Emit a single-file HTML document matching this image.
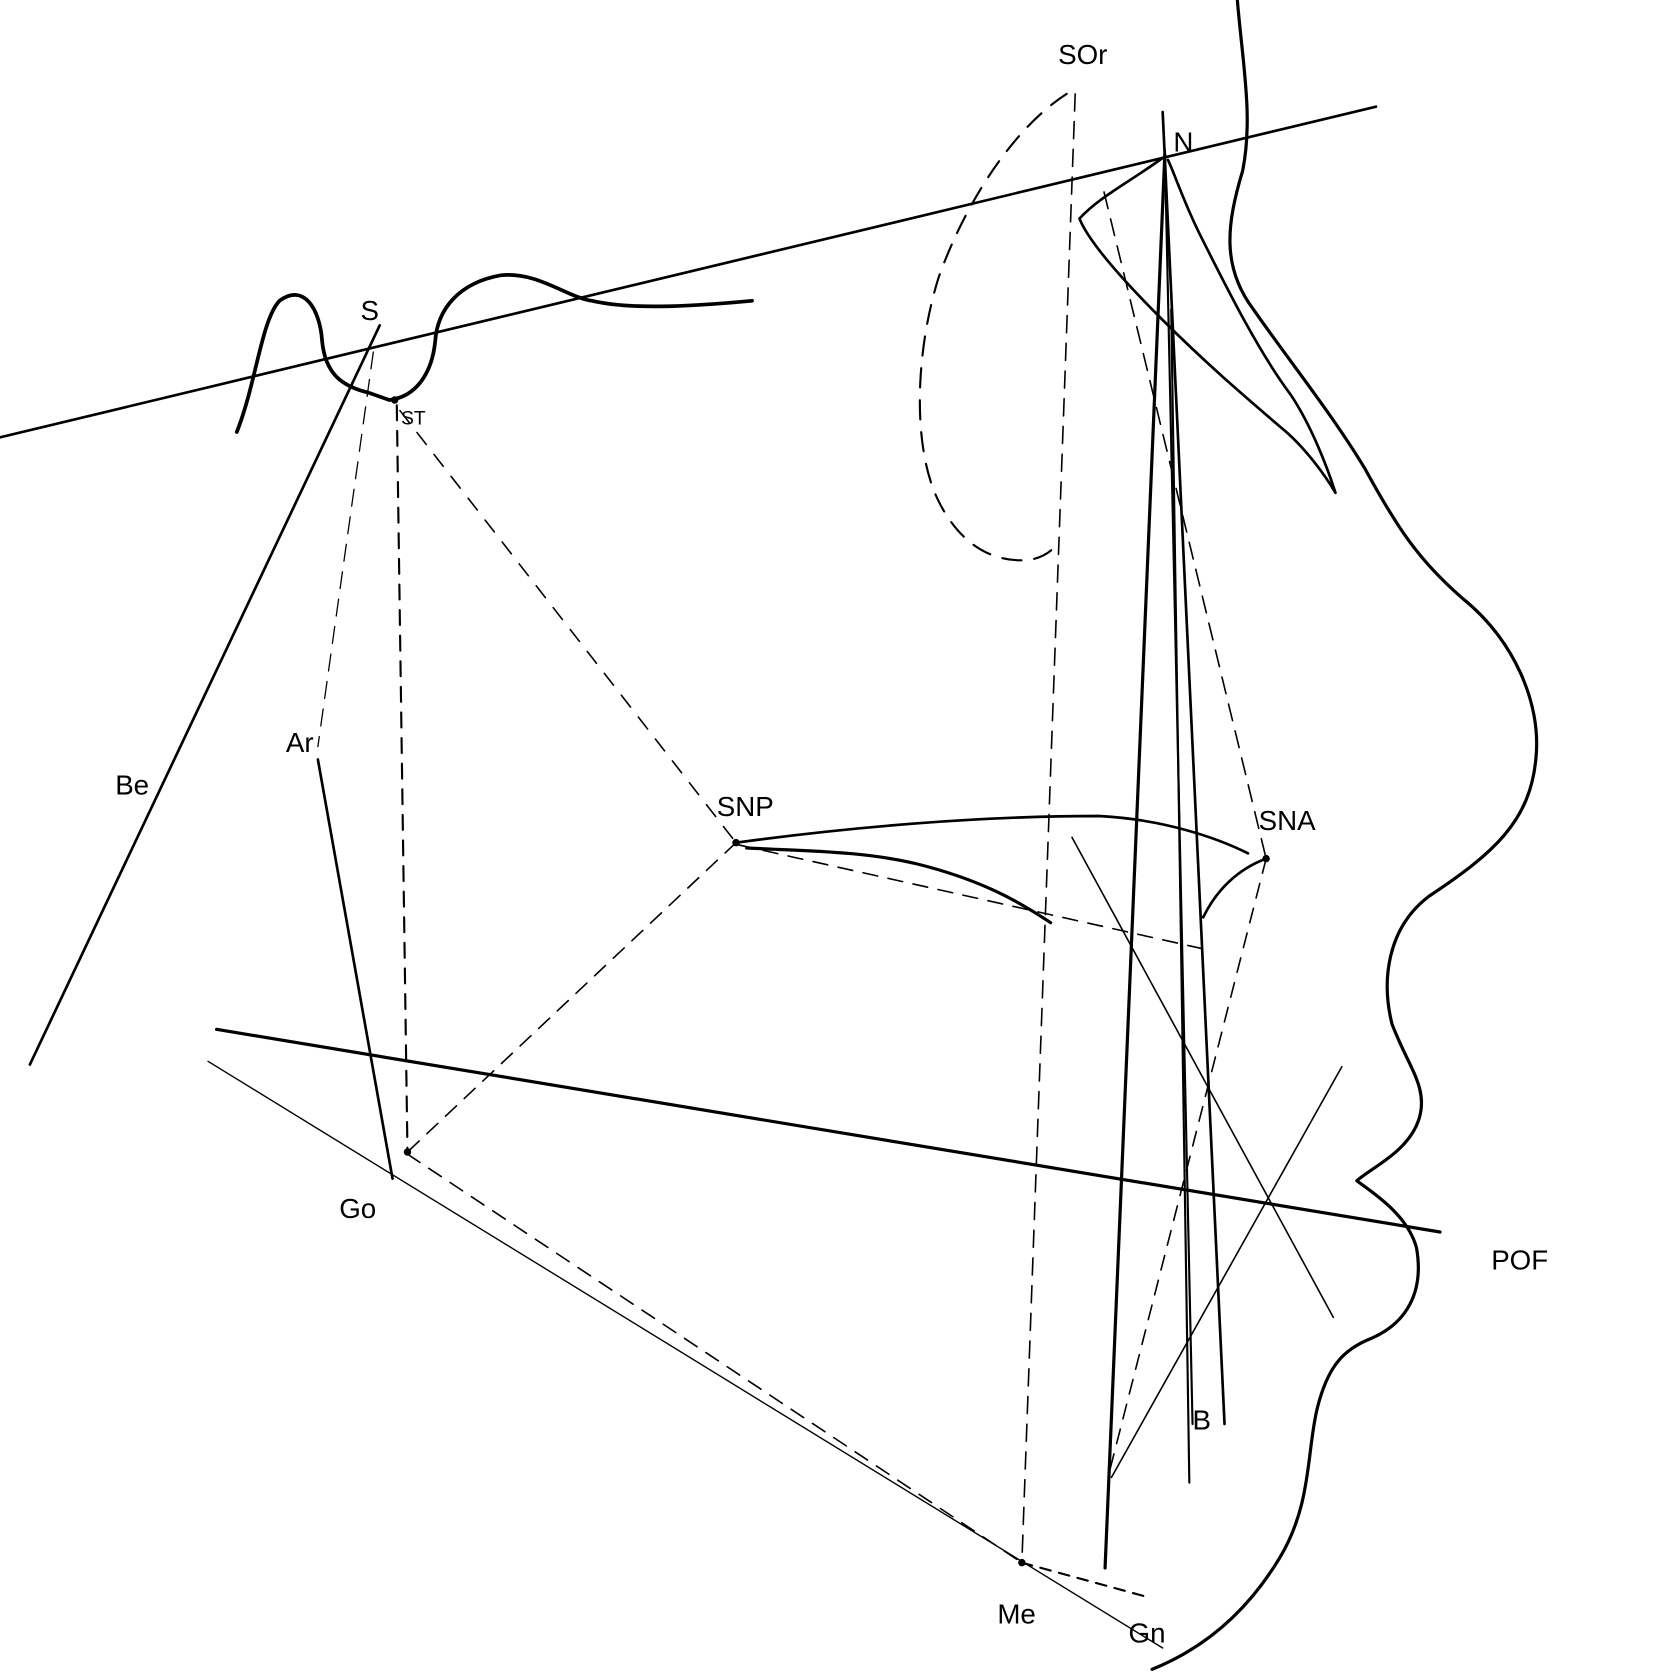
<!DOCTYPE html>
<html><head><meta charset="utf-8"><style>
html,body{margin:0;padding:0;background:#fff;}
svg{display:block;}
text{font-family:"Liberation Sans",sans-serif;fill:#000;}
</style></head><body>
<svg width="1664" height="1680" viewBox="0 0 1560 1575" preserveAspectRatio="none" xmlns="http://www.w3.org/2000/svg">
<g fill="none" stroke="#000" stroke-linecap="round" stroke-linejoin="round">
<line x1="0" y1="410" x2="1290" y2="100" stroke-width="2.5"/>
<path d="M222,405 C240,360 245,300 262,282 C285,265 300,290 302,320 C305,350 320,362 345,368 L365,375 C390,372 405,350 408,320 C410,290 430,265 470,258 C505,255 530,278 555,282 C590,290 640,288 705,282" stroke-width="3.5"/>
<line x1="356" y1="305" x2="28" y2="998" stroke-width="2.5"/>
<line x1="350" y1="330" x2="298" y2="700" stroke-width="1.2" stroke-dasharray="16,10"/>
<line x1="372" y1="380" x2="382" y2="1080" stroke-width="2" stroke-dasharray="14,10"/>
<line x1="375" y1="385" x2="690" y2="790" stroke-width="1.5" stroke-dasharray="14,12"/>
<line x1="690" y1="790" x2="382" y2="1080" stroke-width="1.5" stroke-dasharray="14,10"/>
<line x1="298" y1="712" x2="368" y2="1105" stroke-width="2.5"/>
<line x1="203" y1="965" x2="1350" y2="1155" stroke-width="3"/>
<line x1="195" y1="995" x2="1090" y2="1545" stroke-width="1.3"/>
<line x1="382" y1="1082" x2="958" y2="1465" stroke-width="1.5" stroke-dasharray="14,10"/>
<line x1="958" y1="1465" x2="1075" y2="1497" stroke-width="2" stroke-dasharray="10,8"/>
<line x1="1008" y1="88" x2="958" y2="1465" stroke-width="1.5" stroke-dasharray="16,10"/>
<path d="M1000,88 C950,120 905,190 880,260 C858,330 855,420 880,470 C900,510 930,528 965,525 C980,522 988,515 992,508" stroke-width="2" stroke-dasharray="18,12"/>
<line x1="1092" y1="145" x2="1036" y2="1470" stroke-width="3"/>
<line x1="1090" y1="105" x2="1148" y2="1335" stroke-width="2.5"/>
<line x1="1092" y1="140" x2="1118" y2="1335" stroke-width="2"/>
<line x1="1098" y1="290" x2="1115" y2="1390" stroke-width="2"/>
<line x1="1035" y1="180" x2="1187" y2="805" stroke-width="1.5" stroke-dasharray="16,10"/>
<path d="M690,790 C800,775 920,765 1030,765 C1090,768 1140,785 1170,800" stroke-width="2.5"/>
<path d="M700,795 C760,798 810,798 860,810 C920,825 955,845 985,865" stroke-width="3"/>
<line x1="692" y1="792" x2="1130" y2="890" stroke-width="1.5" stroke-dasharray="14,10"/>
<line x1="1187" y1="805" x2="1040" y2="1380" stroke-width="1.5" stroke-dasharray="14,10"/>
<path d="M1187,805 C1160,815 1140,835 1128,860" stroke-width="2.5"/>
<line x1="1005" y1="785" x2="1250" y2="1235" stroke-width="1.5"/>
<line x1="1258" y1="1000" x2="1042" y2="1385" stroke-width="1.5"/>
<path d="M1160,0 C1165,60 1175,110 1165,160 C1150,210 1145,250 1175,290 C1210,340 1250,390 1280,440 C1310,495 1330,525 1370,560 C1420,600 1445,660 1440,710 C1435,770 1400,800 1340,840 C1300,870 1295,920 1305,960 C1320,1000 1340,1020 1330,1050 C1320,1080 1285,1095 1272,1107 C1290,1120 1320,1140 1328,1170 C1335,1210 1320,1240 1285,1255 C1260,1265 1245,1280 1235,1320 C1225,1360 1230,1410 1200,1460 C1170,1510 1130,1545 1080,1565" stroke-width="3"/>
<path d="M1090,148 C1060,170 1030,185 1012,205 C1020,225 1050,260 1090,300 C1130,340 1165,370 1200,400 C1225,420 1245,450 1252,462 C1245,440 1230,400 1210,370 C1180,330 1150,270 1125,220 C1110,190 1100,160 1095,150" stroke-width="2.5"/>
<circle cx="370" cy="375" r="3" fill="#000"/>
<circle cx="690" cy="790" r="3" fill="#000"/>
<circle cx="382" cy="1080" r="3" fill="#000"/>
<circle cx="958" cy="1465" r="3" fill="#000"/>
<circle cx="1187" cy="805" r="3" fill="#000"/>
</g>
<g font-size="26">
<text x="992" y="60">SOr</text>
<text x="1100" y="142">N</text>
<text x="338" y="300">S</text>
<text x="376" y="398" font-size="18">ST</text>
<text x="108" y="745">Be</text>
<text x="268" y="705">Ar</text>
<text x="672" y="765">SNP</text>
<text x="1180" y="778">SNA</text>
<text x="318" y="1142">Go</text>
<text x="1398" y="1190">POF</text>
<text x="935" y="1522">Me</text>
<text x="1058" y="1540">Gn</text>
<text x="1118" y="1340">B</text>
</g>
</svg>
</body></html>
